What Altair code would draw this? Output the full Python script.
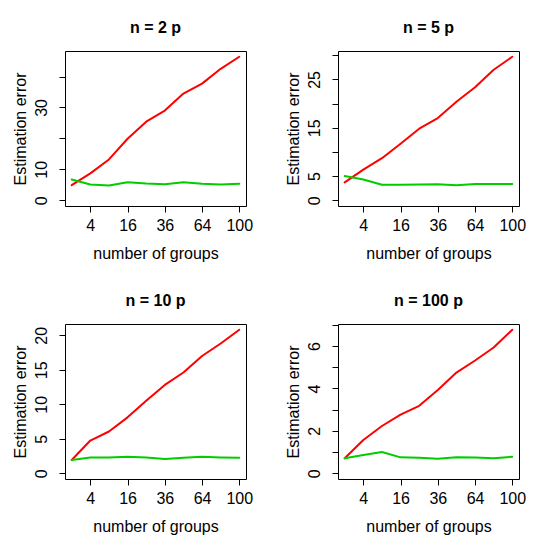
import altair as alt
import pandas as pd

groups = [1, 4, 9, 16, 25, 36, 49, 64, 81, 100]
x_ticks = [4, 16, 36, 64, 100]

titles = ["n = 2 p", "n = 5 p", "n = 10 p", "n = 100 p"]

red_2p = [4.9, 8.7, 13.2, 19.9, 25.4, 29.0, 34.5, 37.7, 42.5, 46.4]
green_2p = [6.7, 5.1, 4.8, 5.8, 5.4, 5.2, 5.8, 5.3, 5.1, 5.3]

red_5p = [3.7, 6.35, 8.7, 11.7, 14.8, 17.0, 20.4, 23.4, 27.0, 29.7]
green_5p = [5.0, 4.3, 3.2, 3.2, 3.25, 3.3, 3.1, 3.35, 3.35, 3.35]

red_10p = [1.93, 4.74, 6.05, 8.1, 10.5, 12.8, 14.6, 17.0, 18.8, 20.8]
green_10p = [1.93, 2.3, 2.3, 2.4, 2.3, 2.08, 2.25, 2.4, 2.3, 2.25]

red_100p = [0.71, 1.57, 2.23, 2.77, 3.18, 3.93, 4.75, 5.32, 5.93, 6.77]
green_100p = [0.71, 0.86, 1.0, 0.75, 0.73, 0.69, 0.75, 0.74, 0.71, 0.78]

y_ticks = [[0, 10, 20, 30, 40], [0, 5, 10, 15, 20, 25, 30],
           [0, 5, 10, 15, 20], [0, 1, 2, 3, 4, 5, 6, 7]]
y_hidden = [[20, 40], [10, 20, 30], [], [1, 3, 5, 7]]

series = [(red_2p, green_2p), (red_5p, green_5p),
          (red_10p, green_10p), (red_100p, green_100p)]

FONT = "Liberation Sans"
W, H = 181, 155


def panel(title, red, green, ticks, hidden):
    df = pd.DataFrame({
        "groups": groups * 2,
        "error": red + green,
        "method": ["red"] * len(red) + ["green"] * len(green),
    })
    m = max(red + green)
    ydom = [-0.04 * m, 1.04 * m]
    xdom = [0.64 ** 2, 10.36 ** 2]
    if hidden:
        expr = "(" + " || ".join(f"datum.value == {v}" for v in hidden) + ") ? '' : datum.label"
    else:
        expr = "datum.label"
    return alt.Chart(df).mark_line(strokeWidth=2, strokeCap="round", strokeJoin="round").encode(
        x=alt.X("groups:Q",
                scale=alt.Scale(type="sqrt", domain=xdom, nice=False, zero=False),
                axis=alt.Axis(values=x_ticks, title="number of groups", domain=False, grid=False,
                              tickSize=6, tickColor="black", tickWidth=1,
                              labelFont=FONT, labelFontSize=16, labelColor="black",
                              labelPadding=18, labelBaseline="alphabetic", labelFlush=False,
                              labelOverlap=False,
                              titleFont=FONT, titleFontSize=16, titleFontWeight="normal",
                              titleColor="black", titleX=W / 2, titleY=52,
                              titleAlign="center", titleBaseline="alphabetic")),
        y=alt.Y("error:Q",
                scale=alt.Scale(domain=ydom, nice=False, zero=False),
                axis=alt.Axis(values=ticks, title="Estimation error", domain=False, grid=False,
                              tickSize=6, tickColor="black", tickWidth=1,
                              labelFont=FONT, labelFontSize=16, labelColor="black",
                              labelAngle=-90, labelAlign="center", labelBaseline="alphabetic",
                              labelPadding=13, labelFlush=False, labelOverlap=False,
                              labelExpr=expr,
                              titleFont=FONT, titleFontSize=16, titleFontWeight="normal",
                              titleColor="black", titleX=-40, titleY=H / 2,
                              titleAlign="center", titleBaseline="alphabetic", titleAngle=-90)),
        color=alt.Color("method:N", scale=alt.Scale(domain=["red", "green"],
                                                     range=["#FF0000", "#00CD00"]),
                        legend=None),
    ).properties(
        width=W, height=H,
        title=alt.TitleParams(title, font=FONT, fontSize=16, fontWeight="bold", color="black",
                              anchor="middle", baseline="alphabetic", offset=2, frame="group"),
    )


panels = [panel(titles[i], series[i][0], series[i][1], y_ticks[i], y_hidden[i]) for i in range(4)]

chart = alt.concat(*panels, columns=2, spacing={"row": 118, "column": 92}).properties(
    bounds="flush",
    padding={"left": 3, "top": 11, "right": 5, "bottom": 0},
).configure_view(stroke="black", strokeWidth=1)

chart.save("out.html", embed_options={"renderer": "svg", "actions": False})
